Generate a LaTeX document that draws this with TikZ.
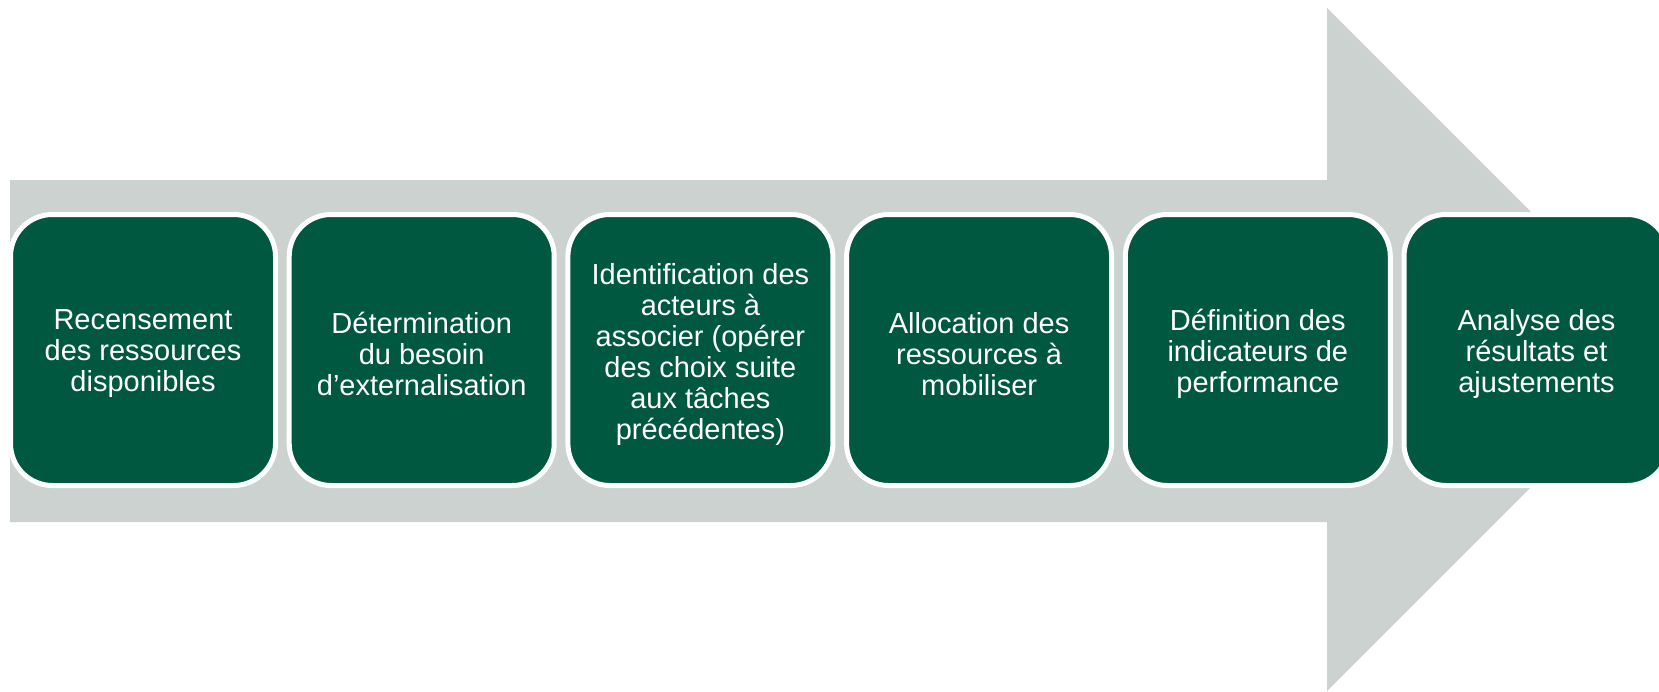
\documentclass[tikz,border=0pt]{standalone}
\usepackage{fontspec}
\setmainfont{Liberation Sans}
\definecolor{arrowgray}{RGB}{203,210,207}
\definecolor{boxgreen}{RGB}{0,88,64}
\tikzset{
  stepbox/.style={rectangle, rounded corners=21pt, minimum width=132.5pt, minimum height=135.5pt,
    inner sep=0pt, fill=boxgreen, draw=white, line width=2.5pt},
  steptext/.style={inner sep=0pt, text=white, align=center,
    font=\fontsize{14.5pt}{15.5pt}\selectfont},
}
\begin{document}
\begin{tikzpicture}[x=0.5pt,y=-0.5pt]
\useasboundingbox (0,0) rectangle (1659,691);
\clip (0,0) rectangle (1659,691);
\fill[arrowgray] (10,180) -- (1327,180) -- (1327,8) -- (1668.5,349.5) -- (1327,691) -- (1327,522) -- (10,522) -- cycle;
\node[stepbox] (s1) at (143,350) {};
\node[stepbox] (s2) at (421.7,350) {};
\node[stepbox] (s3) at (700.4,350) {};
\node[stepbox] (s4) at (979.1,350) {};
\node[stepbox] (s5) at (1257.8,350) {};
\node[stepbox] (s6) at (1536.5,350) {};
\node[steptext] (t1) at (143,354) {Recensement\\des ressources\\disponibles};
\node[steptext] (t2) at (421.7,354) {Détermination\\du besoin\\d’externalisation};
\node[steptext] (t3) at (700.4,354) {Identification des\\acteurs à\\associer (opérer\\des choix suite\\aux tâches\\précédentes)};
\node[steptext] (t4) at (979.1,354) {Allocation des\\ressources à\\mobiliser};
\node[steptext] (t5) at (1257.8,354) {Définition des\\indicateurs de\\performance};
\node[steptext] (t6) at (1536.5,354) {Analyse des\\résultats et\\ajustements};
\end{tikzpicture}
\end{document}
